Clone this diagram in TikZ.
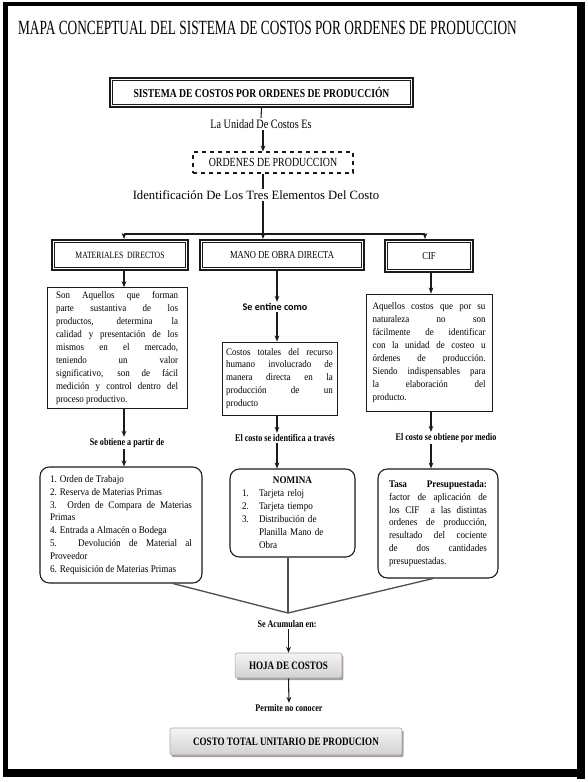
\documentclass[tikz,border=0pt]{standalone}
\usepackage{fontspec}
\setmainfont{Liberation Serif}
\newfontfamily\condserif[FakeStretch=0.8]{Liberation Serif}
\newfontfamily\bodyserif[FakeStretch=0.9]{Liberation Serif}
\newfontfamily\labelsans{Carlito}
\usetikzlibrary{arrows.meta, positioning, calc, shadows}
\definecolor{cdark}{HTML}{1A1A1A}
\definecolor{cline}{HTML}{505050}
\definecolor{cgrayA}{HTML}{F4F4F4}
\definecolor{cgrayB}{HTML}{D2D2D2}
\definecolor{cshadow}{HTML}{9A8484}
\tikzset{
  every picture/.style={x=0.75pt, y=-0.75pt},
  frame/.style={draw=cdark, line width=1.6pt, align=center, inner sep=2pt},
  descbox/.style={draw=cdark, line width=0.7pt, align=justify, font=\bodyserif\fontsize{7.5}{9.7}\selectfont, inner ysep=3pt},
  listbox/.style={draw=cdark, line width=0.8pt, rounded corners=7pt, font=\bodyserif\fontsize{7.6}{9.7}\selectfont, inner ysep=4pt},
  greybox/.style={draw=cgrayB!80!black, line width=0.4pt, rounded corners=1.5pt, top color=cgrayA, bottom color=cgrayB,
    drop shadow={shadow xshift=1.2pt, shadow yshift=-1.6pt, fill=cshadow, opacity=0.8},
    font=\condserif\bfseries\fontsize{8.5}{10}\selectfont},
  linklabel/.style={font=\condserif\bfseries\fontsize{7.6}{9}\selectfont, inner sep=1pt},
  arr/.style={-{Stealth[length=4.5pt, width=3.6pt]}, draw=cdark, line width=0.8pt},
  plain/.style={draw=cdark, line width=0.8pt},
  gline/.style={draw=cline, line width=1pt},
}
\begin{document}
\begin{tikzpicture}
  \useasboundingbox (0,0) rectangle (587,782);
  \fill[white] (0,0) rectangle (587,782);
  % outer frame
  \fill[black] (3,2) rectangle (584,6);
  \fill[black] (3,2) rectangle (8,777);
  \fill[black] (577,2) rectangle (585,779);
  \fill[black] (3,769) rectangle (585,777);
  \node[inner sep=0pt] (ttl) at (267.5,28) {\resizebox{374pt}{10pt}{MAPA CONCEPTUAL DEL SISTEMA DE COSTOS POR ORDENES DE PRODUCCION}};
  % top of the map
  \node[frame, minimum width=227.25pt, minimum height=21.75pt, font=\condserif\bfseries\fontsize{9}{10}\selectfont] (sis) at (261.5,92.5) {SISTEMA DE COSTOS POR ORDENES DE PRODUCCIÓN};
  \node[font=\condserif\fontsize{9.6}{11}\selectfont, inner sep=1pt] (una) at (261,124) {La Unidad De Costos Es};
  \node[draw=cdark, dashed, line width=0.8pt, minimum width=120pt, minimum height=15.75pt, font=\condserif\fontsize{9.3}{10}\selectfont] (ord) at (273,162.5) {ORDENES DE PRODUCCION};
  \node[font=\fontsize{9.5}{11}\selectfont, inner sep=1pt] (ident) at (256,195) {Identificación De Los Tres Elementos Del Costo};
  % the three elements
  \node[frame, minimum width=102pt, minimum height=22.5pt, font=\condserif\fontsize{7.2}{9}\selectfont] (mat) at (120,255) {MATERIALES\ \ DIRECTOS};
  \node[frame, minimum width=123pt, minimum height=22.5pt, font=\condserif\fontsize{8}{9}\selectfont] (mob) at (282,255) {MANO DE OBRA DIRECTA};
  \node[frame, minimum width=66pt, minimum height=24pt, font=\condserif\fontsize{8}{9}\selectfont] (cif) at (429,256) {CIF};
  \foreach \n in {sis,mat,mob,cif}
    \draw[line width=0.6pt, cdark] ([shift={(2.6pt,-2.6pt)}]\n.north west) rectangle ([shift={(-2.6pt,2.6pt)}]\n.south east);
  \coordinate (ct) at (263,0);
  \coordinate (cl) at (124,0);
  \coordinate (cm) at (277,0);
  \coordinate (cr) at (431,0);
  \coordinate (jn) at (263,234);
  \coordinate (jl) at (124,234);
  \coordinate (jr) at (425,234);
  % left column
  \node[descbox, text width=91.5pt, inner xsep=6.75pt, minimum height=90pt] (mdesc) at (117,348) {Son Aquellos que forman\linebreak parte sustantiva de los\linebreak productos, determina la\linebreak calidad y presentación de los\linebreak mismos en el mercado,\linebreak teniendo un valor\linebreak significativo, son de fácil\linebreak medición y control dentro del\linebreak proceso productivo.};
  \node[linklabel] (mobt) at (127,443) {Se obtiene a partir de};
  \node[listbox, align=justify, text width=106.5pt, inner xsep=7.5pt, minimum height=87pt] (mlist) at (121,525) {1. Orden de Trabajo\\ 2. Reserva de Materias Primas\\ 3. Orden de Compara de Materias\linebreak Primas\\ 4. Entrada a Almacén o Bodega\\ 5. Devolución de Material al\linebreak Proveedor\\ 6. Requisición de Materias Primas};
  % middle column
  \node[font=\labelsans\bfseries\fontsize{7.6}{9}\selectfont, inner sep=1pt] (sent) at (275,307) {Se entine\ como};
  \node[descbox, text width=80pt, inner xsep=3.1pt, minimum height=54.75pt] (hdesc) at (279.5,378.5) {Costos totales del recurso\linebreak humano involucrado de\linebreak manera directa en la\linebreak producción de un\linebreak producto};
  \node[linklabel] (hid) at (285,438) {El costo se identifica a través};
  \node[listbox, align=left, text width=75.75pt, inner xsep=9pt, minimum height=66pt] (nom) at (292.5,513) {\centering\textbf{NOMINA}\par\raggedright
    \makebox[12.75pt][l]{1.}Tarjeta reloj\\ \makebox[12.75pt][l]{2.}Tarjeta tiempo\\ \makebox[12.75pt][l]{3.}Distribución de\\ \hspace*{12.75pt}Planilla Mano de\\ \hspace*{12.75pt}Obra};
  % right column
  \node[descbox, text width=84.75pt, inner xsep=4.9pt, minimum height=87.75pt] (cdesc) at (429,352.5) {Aquellos costos que por su\linebreak naturaleza no son\linebreak fácilmente de identificar\linebreak con la unidad de costeo u\linebreak órdenes de producción.\linebreak Siendo indispensables para\linebreak la elaboración del\linebreak producto.};
  \node[linklabel] (cobt) at (446,438) {El costo se obtiene por medio};
  \node[listbox, align=justify, text width=73.5pt, inner xsep=8.25pt, minimum height=81.75pt] (tasa) at (438,523.5) {\textbf{Tasa Presupuestada:}\linebreak factor de aplicación de\linebreak los CIF\ \ a las distintas\linebreak ordenes de producción,\linebreak resultado del cociente\linebreak de dos cantidades\linebreak presupuestadas.};
  % bottom of the map
  \coordinate (cv) at (288,613);
  \node[linklabel] (acu) at (287,624) {Se Acumulan en:};
  \node[greybox, minimum width=80pt, minimum height=18.75pt] (hoja) at (288.5,665.5) {HOJA DE COSTOS};
  \node[linklabel] (perm) at (289,708) {Permite no conocer};
  \node[greybox, minimum width=174pt, minimum height=20.25pt] (ctot) at (286,741.5) {COSTO TOTAL UNITARIO DE PRODUCION};
  % connectors
  \draw[plain] (sis.south) -- (una.north);
  \draw[arr] (una.south -| ct) -- (ord.north -| ct);
  \draw[plain] (ord.south -| jn) -- (ident.north -| jn);
  \draw[plain] (ident.south -| jn) -- (jn);
  \draw[plain] (jl) -- (jr);
  \draw[arr] (jl) -- (jl |- mat.north);
  \draw[arr] (jn) -- (jn |- mob.north);
  \draw[arr] (jr) -- (jr |- cif.north);
  \draw[arr] (mat.south -| cl) -- (mdesc.north -| cl);
  \draw[arr] (mdesc.south -| cl) -- (mobt.north -| cl);
  \draw[arr] (mobt.south -| cl) -- (mlist.north -| cl);
  \draw[arr] (mob.south -| cm) -- (sent.north -| cm);
  \draw[arr] (sent.south -| cm) -- (hdesc.north -| cm);
  \draw[arr] (hdesc.south -| cm) -- (hid.north -| cm);
  \draw[arr] (hid.south -| cm) -- (nom.north -| cm);
  \draw[arr] (cif.south -| cr) -- (cdesc.north -| cr);
  \draw[arr] (cdesc.south -| cr) -- (cobt.north -| cr);
  \draw[arr] (cobt.south -| cr) -- (tasa.north -| cr);
  \draw[gline] ([xshift=39pt]mlist.south) -- (cv);
  \draw[gline] (nom.south -| cv) -- (cv);
  \draw[gline] ([xshift=-3.75pt]tasa.south) -- (cv);
  \draw[arr] (acu.south -| hoja) -- (hoja.north);
  \draw[arr] (hoja.south) -- (perm.north);
\end{tikzpicture}
\end{document}
